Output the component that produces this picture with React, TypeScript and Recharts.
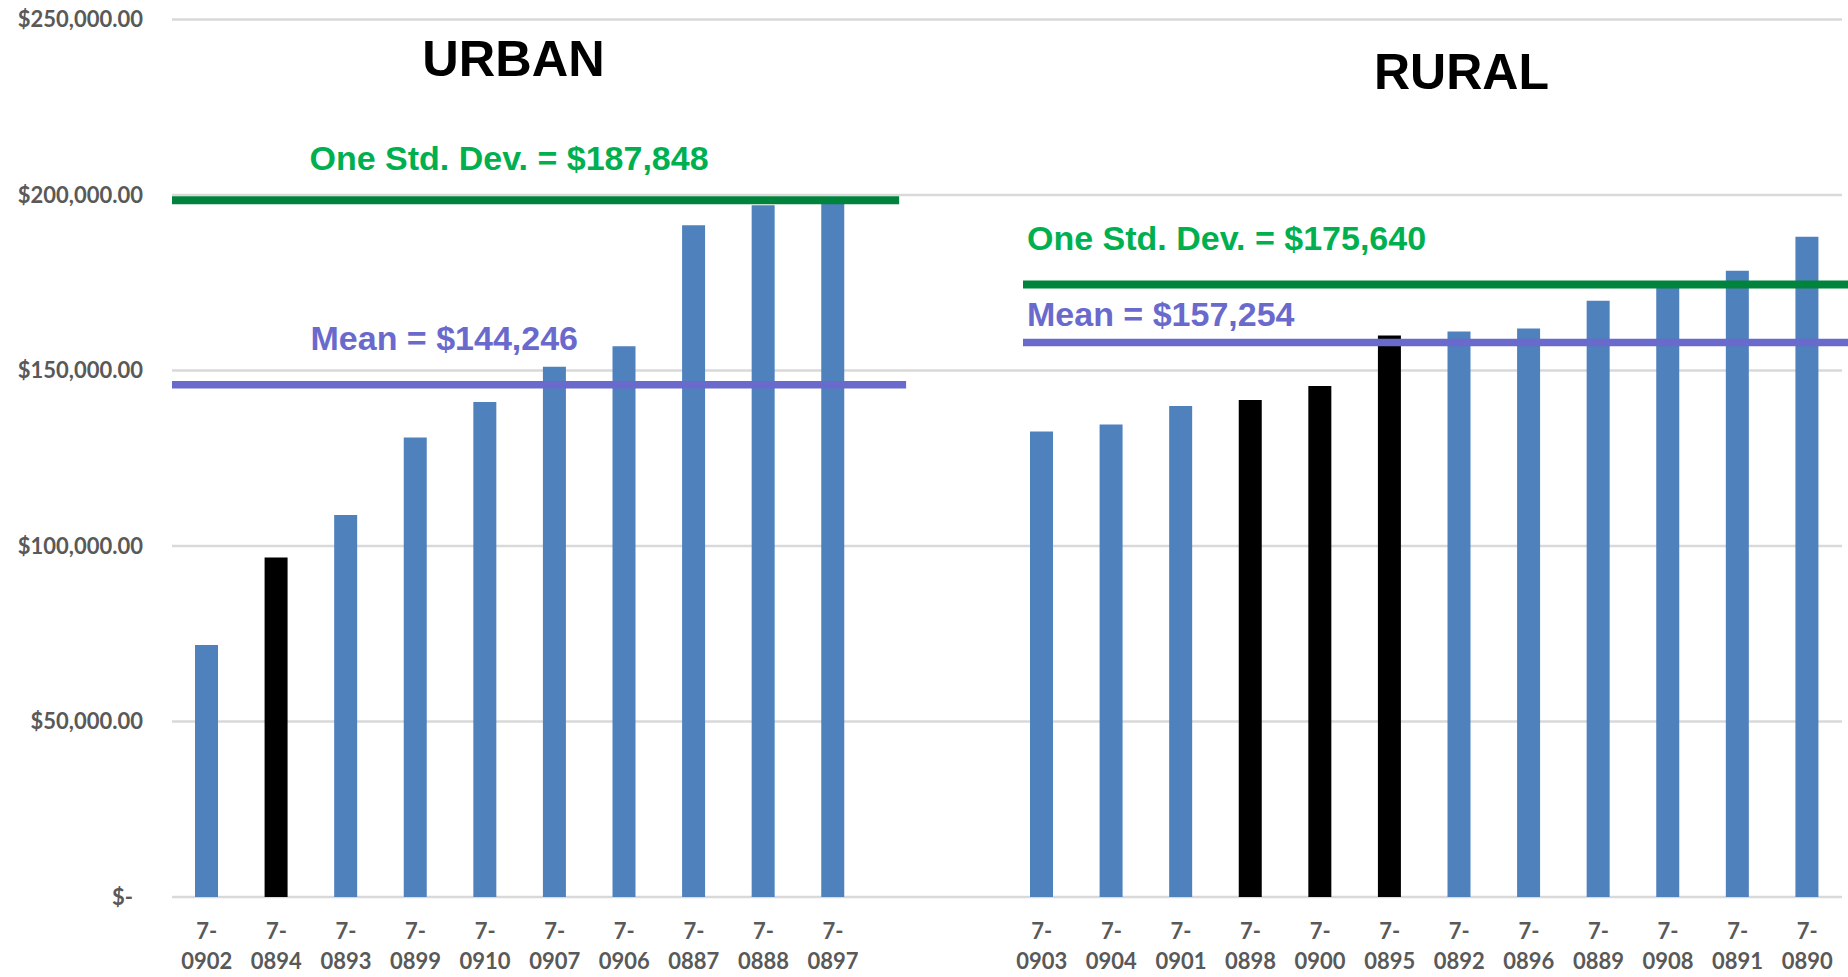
import { BarChart, Bar, Cell, XAxis, YAxis, CartesianGrid, ReferenceLine } from "recharts";

// Urban districts, sorted by value
const URBAN_IDS = ["7-0902", "7-0894", "7-0893", "7-0899", "7-0910", "7-0907", "7-0906", "7-0887", "7-0888", "7-0897"];
const URBAN_VALUES = [71800, 96700, 108800, 130900, 141000, 151100, 156900, 191400, 197100, 198000];

// Rural districts, sorted by value
const RURAL_IDS = ["7-0903", "7-0904", "7-0901", "7-0898", "7-0900", "7-0895", "7-0892", "7-0896", "7-0889", "7-0908", "7-0891", "7-0890"];
const RURAL_VALUES = [132600, 134600, 139900, 141600, 145600, 160000, 161100, 162000, 169900, 174800, 178400, 188100];

// bars drawn in black
const HIGHLIGHTED = ["7-0894", "7-0898", "7-0900", "7-0895"];

// two empty slots between the groups
const GAP_IDS = ["gap-1", "gap-2"];

const Y_TICKS = [0, 50000, 100000, 150000, 200000, 250000];

// where the annotation lines sit on the value axis, and their labels
const URBAN_STD_LINE = 198500;
const URBAN_MEAN_LINE = 145950;
const RURAL_STD_LINE = 174480;
const RURAL_MEAN_LINE = 157970;
const URBAN_STD_LABEL = "One Std. Dev. = $187,848";
const URBAN_MEAN_LABEL = "Mean = $144,246";
const RURAL_STD_LABEL = "One Std. Dev. = $175,640";
const RURAL_MEAN_LABEL = "Mean = $157,254";

const BLUE = "#4F81BD";
const GREEN_LINE = "#00833D";
const GREEN_TEXT = "#00B050";
const PURPLE = "#6A6ACD";
const GRID = "#D9D9D9";
const TICK_COLOR = "#595959";
const SLOTS = URBAN_IDS.length + GAP_IDS.length + RURAL_IDS.length;

const ids = [...URBAN_IDS, ...GAP_IDS, ...RURAL_IDS];
const values = [...URBAN_VALUES, ...GAP_IDS.map(() => null), ...RURAL_VALUES];
// slot = centre of each category on a 0..SLOTS number line (used for the annotation lines)
const data = ids.map((name, i) => ({ name, value: values[i], slot: i + 0.5 }));

function formatMoney(v: number) {
  if (v === 0) return "$-";
  return "$" + v.toLocaleString("en-US", { minimumFractionDigits: 2, maximumFractionDigits: 2 });
}

function YTick({ x, y, payload }: any) {
  const zero = payload.value === 0;
  return (
    <text
      x={zero ? x - 10 : x}
      y={y}
      dy="0.35em"
      textAnchor="end"
      fontFamily="Lato"
      fontWeight="bold"
      fontSize={22}
      fill={TICK_COLOR}
    >
      {formatMoney(payload.value)}
    </text>
  );
}

function XTick({ x, y, payload }: any) {
  const name: string = payload.value;
  if (GAP_IDS.includes(name)) return null;
  return (
    <g fontFamily="Lato" fontWeight="bold" fontSize={22} fill={TICK_COLOR} textAnchor="middle">
      <text x={x} y={y + 32} dy="0.35em">
        {name.slice(0, 2)}
      </text>
      <text x={x} y={y + 62} dy="0.35em">
        {name.slice(2)}
      </text>
    </g>
  );
}

function LineLabel({ viewBox, text, color, dx, dy }: any) {
  if (!viewBox) return null;
  return (
    <text
      x={viewBox.x + dx}
      y={viewBox.y + dy}
      fill={color}
      fontFamily="Liberation Sans, Arial, sans-serif"
      fontWeight="bold"
      fontSize={34}
    >
      {text}
    </text>
  );
}

export default function App() {
  return (
    <div style={{ position: "absolute", left: 0, top: 0, width: 1848, height: 977, background: "#fff" }}>
      <BarChart
        width={1848}
        height={977}
        data={data}
        margin={{ top: 19.5, right: 6, left: 0, bottom: 0 }}
      >
        <CartesianGrid vertical={false} stroke={GRID} strokeWidth={2.5} />
        <XAxis
          xAxisId="cat"
          dataKey="name"
          interval={0}
          height={80}
          axisLine={false}
          tickLine={false}
          tickSize={0}
          tick={<XTick />}
        />
        <XAxis
          xAxisId="pos"
          dataKey="slot"
          type="number"
          scale="linear"
          domain={[0, SLOTS]}
          hide
          allowDataOverflow
        />
        <YAxis
          domain={[0, 250000]}
          ticks={Y_TICKS}
          width={172}
          axisLine={false}
          tickLine={false}
          tickSize={0}
          tickMargin={29}
          tick={<YTick />}
        />
        <Bar xAxisId="cat" dataKey="value" barSize={23} isAnimationActive={false}>
          {data.map((d) => (
            <Cell key={d.name} fill={HIGHLIGHTED.includes(d.name) ? "#000000" : BLUE} />
          ))}
        </Bar>
        <ReferenceLine
          xAxisId="pos"
          segment={[{ x: 0, y: URBAN_STD_LINE }, { x: 10.45, y: URBAN_STD_LINE }]}
          stroke={GREEN_LINE}
          strokeWidth={8}
          ifOverflow="visible"
          label={<LineLabel text={URBAN_STD_LABEL} color={GREEN_TEXT} dx={137.5} dy={-30.5} />}
        />
        <ReferenceLine
          xAxisId="pos"
          segment={[{ x: 0, y: URBAN_MEAN_LINE }, { x: 10.55, y: URBAN_MEAN_LINE }]}
          stroke={PURPLE}
          strokeWidth={7.5}
          ifOverflow="visible"
          label={<LineLabel text={URBAN_MEAN_LABEL} color={PURPLE} dx={138.5} dy={-34.3} />}
        />
        <ReferenceLine
          xAxisId="pos"
          segment={[{ x: 12.23, y: RURAL_STD_LINE }, { x: 24.1, y: RURAL_STD_LINE }]}
          stroke={GREEN_LINE}
          strokeWidth={8}
          ifOverflow="visible"
          label={<LineLabel text={RURAL_STD_LABEL} color={GREEN_TEXT} dx={4} dy={-34.7} />}
        />
        <ReferenceLine
          xAxisId="pos"
          segment={[{ x: 12.23, y: RURAL_MEAN_LINE }, { x: 24.1, y: RURAL_MEAN_LINE }]}
          stroke={PURPLE}
          strokeWidth={7.5}
          ifOverflow="visible"
          label={<LineLabel text={RURAL_MEAN_LABEL} color={PURPLE} dx={4} dy={-16.6} />}
        />
      </BarChart>
      <svg
        width={1848}
        height={120}
        style={{ position: "absolute", left: 0, top: 0, pointerEvents: "none" }}
      >
        <text x={513.5} y={76} textAnchor="middle" fontFamily="Liberation Sans, Arial, sans-serif" fontWeight="bold" fontSize={50.5}>
          URBAN
        </text>
        <text x={1461.5} y={89.3} textAnchor="middle" fontFamily="Liberation Sans, Arial, sans-serif" fontWeight="bold" fontSize={50}>
          RURAL
        </text>
      </svg>
    </div>
  );
}
